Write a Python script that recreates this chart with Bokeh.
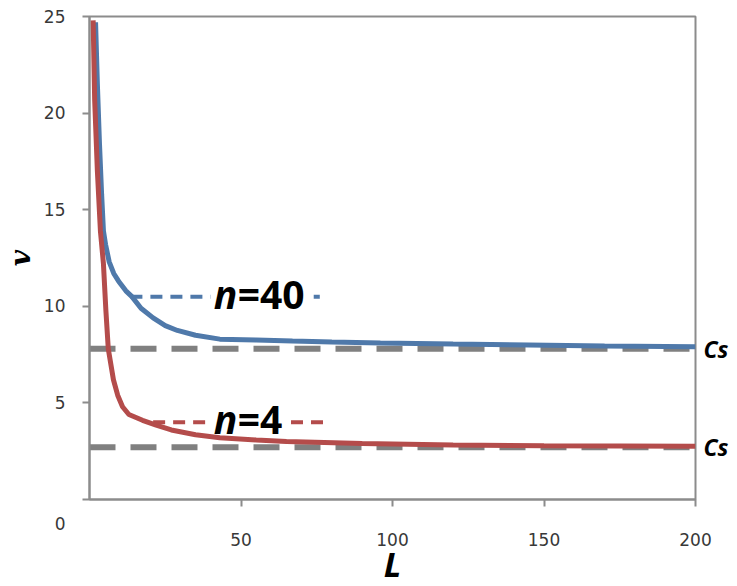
from bokeh.plotting import figure
from bokeh.models import Label, FixedTicker, Range1d, LinearAxis
from bokeh.embed import file_html
from bokeh.resources import INLINE

# ---- data ----
L_n40 = [2.0, 2.6, 3.3, 4.0, 4.6, 5.3, 6.5, 8.0, 9.6, 12, 14, 17, 21, 25, 29, 35, 43, 55, 67, 80, 96, 120, 145, 170, 200]
v_n40 = [24.7, 21.5, 18.4, 15.8, 13.9, 13.2, 12.3, 11.7, 11.3, 10.8, 10.5, 9.9, 9.4, 9.0, 8.75, 8.5, 8.3, 8.25, 8.2, 8.15, 8.1, 8.05, 8.0, 7.95, 7.9]

L_n4 = [1.2, 1.7, 2.6, 3.6, 4.6, 5.4, 6.2, 7.9, 9.3, 10.9, 13, 17.5, 22, 27, 35, 43, 55, 65, 90, 120, 150, 200]
v_n4 = [24.8, 20.7, 17.0, 13.9, 12.2, 9.8, 7.8, 6.2, 5.4, 4.8, 4.4, 4.1, 3.85, 3.6, 3.35, 3.2, 3.08, 3.0, 2.9, 2.82, 2.78, 2.75]

cs_values = [7.8, 2.7]
cs_labels = ["Cs", "Cs"]
cs_L = [0, 200]

n40_mark_L = [[13.5, 40], [74, 76]]
n40_mark_v = [[10.5, 10.5], [10.5, 10.5]]
n4_mark_L = [[21, 40], [66.5, 78]]
n4_mark_v = [[4.0, 4.0], [4.0, 4.0]]

x_ticks = [50, 100, 150, 200]
y_ticks = [0, 5, 10, 15, 20, 25]
y_tick_labels = ["\n\n0", "5", "10", "15", "20", "25"]

BLUE = "#4f79aa"
RED = "#b44c4b"
GRAY = "#808080"
AXIS = "#8c8c8c"
TXT = "#383838"

p = figure(frame_width=606, frame_height=483,
           x_range=Range1d(0, 200), y_range=Range1d(0, 25),
           output_backend="svg", toolbar_location=None,
           min_border_left=81, min_border_right=34, min_border_top=16, min_border_bottom=87)

p.xgrid.visible = False
p.ygrid.visible = False
p.background_fill_color = "white"
p.border_fill_color = "white"
p.outline_line_color = AXIS
p.outline_line_width = 2

for ax in (p.xaxis[0], p.yaxis[0]):
    ax.axis_line_color = AXIS
    ax.axis_line_width = 2
    ax.major_tick_line_color = AXIS
    ax.major_tick_line_width = 2
    ax.major_tick_in = 0
    ax.major_tick_out = 7
    ax.minor_tick_line_color = None
    ax.major_label_text_font = "DejaVu Sans"
    ax.major_label_text_font_size = "17px"
    ax.major_label_text_color = TXT

p.xaxis.ticker = FixedTicker(ticks=x_ticks)
p.yaxis.ticker = FixedTicker(ticks=y_ticks)
p.yaxis.major_label_overrides = {t: s for t, s in zip(y_ticks, y_tick_labels)}
p.xaxis.major_label_standoff = 26
p.yaxis.major_label_standoff = 17

p.xaxis.axis_label = "L"
p.xaxis.axis_label_text_font = "Open Sans"
p.xaxis.axis_label_text_font_style = "bold italic"
p.xaxis.axis_label_text_font_size = "34px"
p.xaxis.axis_label_text_color = "black"
p.xaxis.axis_label_standoff = -8

p.yaxis.axis_label = "v"
p.yaxis.axis_label_text_font = "DejaVu Serif"
p.yaxis.axis_label_text_font_style = "bold italic"
p.yaxis.axis_label_text_font_size = "28px"
p.yaxis.axis_label_text_color = "black"
p.yaxis.axis_label_standoff = 4

# right-hand c_s marks
cs_axis = LinearAxis(ticker=FixedTicker(ticks=cs_values),
                     major_label_overrides={v: s for v, s in zip(cs_values, cs_labels)},
                     axis_line_color=None, major_tick_line_color=None,
                     minor_tick_line_color=None, major_tick_out=0, major_tick_in=0,
                     major_label_standoff=8,
                     major_label_text_font="Open Sans", major_label_text_font_style="bold italic",
                     major_label_text_font_size="23px", major_label_text_color="black")
p.add_layout(cs_axis, "right")

# asymptote lines c_s
for cs in cs_values:
    p.line(cs_L, [cs, cs], line_color=GRAY, line_width=6, line_dash="26 15")

# curves
p.line(L_n40, v_n40, line_color=BLUE, line_width=5)
p.line(L_n4, v_n4, line_color=RED, line_width=5)

# short marker dashes by the labels
p.multi_line(n40_mark_L, n40_mark_v, line_color=BLUE, line_width=4, line_dash="12 8")
p.multi_line(n4_mark_L, n4_mark_v, line_color=RED, line_width=4, line_dash="12 8")

def two_part(x, y, rest):
    p.add_layout(Label(x=x, y=y, text="n", text_font="Open Sans", text_font_style="bold italic",
                       text_font_size="39px", text_color="black", text_baseline="middle"))
    p.add_layout(Label(x=x, y=y, x_offset=24, text=rest, text_font="Open Sans", text_font_style="bold",
                       text_font_size="39px", text_color="black", text_baseline="middle"))

two_part(41, 10.66, "=40")
two_part(41, 4.17, "=4")

open("out.html", "w").write(file_html(p, INLINE))
